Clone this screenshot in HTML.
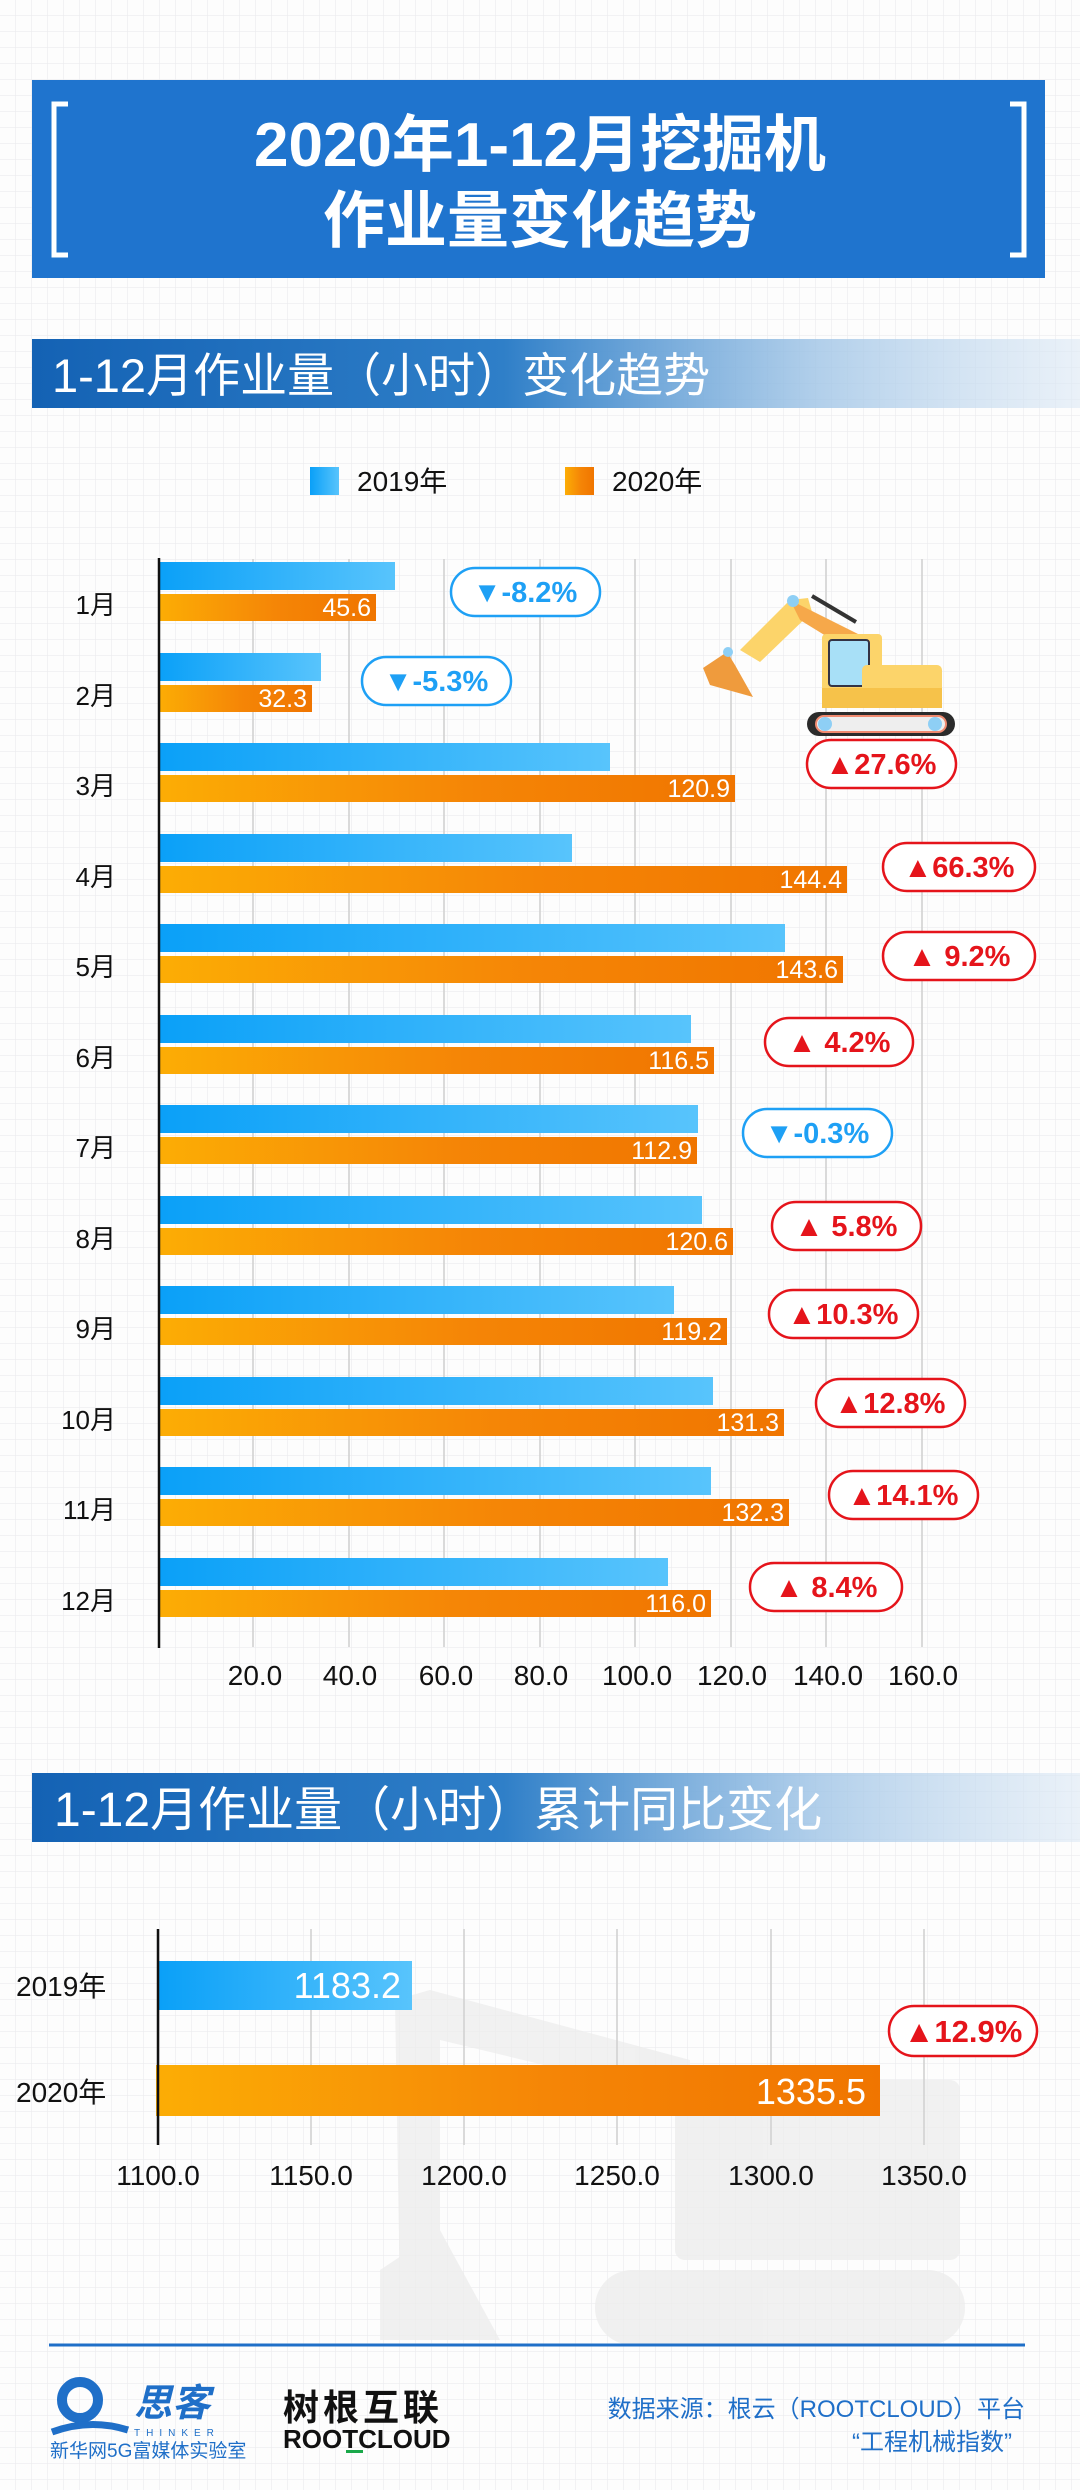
<!DOCTYPE html>
<html><head><meta charset="utf-8"><style>
html,body{margin:0;padding:0;background:#fff;}
svg{display:block;}
text{font-family:"Liberation Sans","Noto Sans CJK SC",sans-serif;}
</style></head><body>
<svg width="1080" height="2490" viewBox="0 0 1080 2490" xmlns="http://www.w3.org/2000/svg">
<defs>
<pattern id="grid" width="16" height="16" patternUnits="userSpaceOnUse">
<path d="M16 0V16H0" fill="none" stroke="#ececee" stroke-width="1.2"/>
</pattern>
<linearGradient id="blue" x1="0" x2="1"><stop offset="0" stop-color="#0aa0f8"/><stop offset="1" stop-color="#58c4fc"/></linearGradient>
<linearGradient id="orange" x1="0" x2="1"><stop offset="0" stop-color="#fcad05"/><stop offset="0.55" stop-color="#f58506"/><stop offset="1" stop-color="#f07500"/></linearGradient>
<linearGradient id="hdr" x1="0" x2="1"><stop offset="0" stop-color="#1462b4"/><stop offset="0.45" stop-color="#2f7fc8"/><stop offset="0.75" stop-color="#9fc4e6" stop-opacity="0.8"/><stop offset="1" stop-color="#dde9f5" stop-opacity="0.6"/></linearGradient>
</defs>
<rect width="1080" height="2490" fill="#fdfdfd"/>
<rect width="1080" height="2490" fill="url(#grid)"/>

<!-- Title -->
<rect x="32" y="80" width="1013" height="198" fill="#1f74ce"/>
<path d="M68 104H54V255H68" fill="none" stroke="#fff" stroke-width="5"/>
<path d="M1010 104H1024V255H1010" fill="none" stroke="#fff" stroke-width="5"/>
<text x="540" y="166" text-anchor="middle" font-size="62" font-weight="bold" fill="#fff">2020年1-12月挖掘机</text>
<text x="540" y="242" text-anchor="middle" font-size="62" font-weight="bold" fill="#fff">作业量变化趋势</text>

<!-- Section header 1 -->
<rect x="32" y="339" width="1048" height="69" fill="url(#hdr)"/>
<text x="52" y="392" font-size="47" fill="#fff">1-12月作业量（小时）变化趋势</text>

<!-- Legend -->
<rect x="310" y="467" width="29" height="28" fill="url(#blue)"/>
<text x="357" y="491" font-size="28" fill="#111">2019年</text>
<rect x="565" y="467" width="29" height="28" fill="url(#orange)"/>
<text x="612" y="491" font-size="28" fill="#111">2020年</text>

<!-- Chart 1 gridlines -->
<g stroke="#cfcfcf" stroke-width="1.5">
<line x1="253" y1="559" x2="253" y2="1647"/><line x1="349" y1="559" x2="349" y2="1647"/>
<line x1="444" y1="559" x2="444" y2="1647"/><line x1="540" y1="559" x2="540" y2="1647"/>
<line x1="635" y1="559" x2="635" y2="1647"/><line x1="731" y1="559" x2="731" y2="1647"/>
<line x1="826" y1="559" x2="826" y2="1647"/><line x1="922" y1="559" x2="922" y2="1647"/>
</g>

<!-- Excavator -->
<g>
<path d="M740 650 L790 600 L808 598 L812 612 L760 662 Z" fill="#fcd46a"/>
<path d="M790 600 L870 640 L865 660 L800 620 Z" fill="#f6a84a"/>
<line x1="812" y1="596" x2="856" y2="622" stroke="#333" stroke-width="4"/>
<path d="M703 668 L727 652 L735 665 L753 697 L710 685 Z" fill="#ef9b3d"/>
<circle cx="793" cy="601" r="6" fill="#8ecff5"/><circle cx="728" cy="652" r="5" fill="#8ecff5"/>
<rect x="822" y="634" width="60" height="74" rx="4" fill="#fcd46a"/>
<rect x="829" y="640" width="40" height="46" rx="3" fill="#a8e0f7" stroke="#334" stroke-width="2"/>
<rect x="862" y="665" width="80" height="43" rx="5" fill="#fcd46a"/>
<rect x="822" y="688" width="120" height="20" fill="#f6c24a"/>
<rect x="807" y="712" width="148" height="24" rx="12" fill="#2b2b2b"/>
<rect x="816" y="716" width="130" height="16" rx="8" fill="#eee" stroke="#f08a70" stroke-width="2"/>
<circle cx="825" cy="724" r="7" fill="#8ecff5"/><circle cx="935" cy="724" r="7" fill="#8ecff5"/>
</g>

<!-- Bars chart 1 -->
<g font-size="26" fill="#111" text-anchor="end">
<text x="116" y="614">1月</text><text x="116" y="705">2月</text><text x="116" y="795">3月</text>
<text x="116" y="886">4月</text><text x="116" y="976">5月</text><text x="116" y="1067">6月</text>
<text x="116" y="1157">7月</text><text x="116" y="1248">8月</text><text x="116" y="1338">9月</text>
<text x="116" y="1429">10月</text><text x="116" y="1519">11月</text><text x="116" y="1610">12月</text>
</g>
<g>
<rect x="158" y="562" width="237" height="28" fill="url(#blue)"/><rect x="158" y="594" width="218" height="27" fill="url(#orange)"/>
<rect x="158" y="653" width="163" height="28" fill="url(#blue)"/><rect x="158" y="685" width="154" height="27" fill="url(#orange)"/>
<rect x="158" y="743" width="452" height="28" fill="url(#blue)"/><rect x="158" y="775" width="577" height="27" fill="url(#orange)"/>
<rect x="158" y="834" width="414" height="28" fill="url(#blue)"/><rect x="158" y="866" width="689" height="27" fill="url(#orange)"/>
<rect x="158" y="924" width="627" height="28" fill="url(#blue)"/><rect x="158" y="956" width="685" height="27" fill="url(#orange)"/>
<rect x="158" y="1015" width="533" height="28" fill="url(#blue)"/><rect x="158" y="1047" width="556" height="27" fill="url(#orange)"/>
<rect x="158" y="1105" width="540" height="28" fill="url(#blue)"/><rect x="158" y="1137" width="539" height="27" fill="url(#orange)"/>
<rect x="158" y="1196" width="544" height="28" fill="url(#blue)"/><rect x="158" y="1228" width="575" height="27" fill="url(#orange)"/>
<rect x="158" y="1286" width="516" height="28" fill="url(#blue)"/><rect x="158" y="1318" width="569" height="27" fill="url(#orange)"/>
<rect x="158" y="1377" width="555" height="28" fill="url(#blue)"/><rect x="158" y="1409" width="626" height="27" fill="url(#orange)"/>
<rect x="158" y="1467" width="553" height="28" fill="url(#blue)"/><rect x="158" y="1499" width="631" height="27" fill="url(#orange)"/>
<rect x="158" y="1558" width="510" height="28" fill="url(#blue)"/><rect x="158" y="1590" width="553" height="27" fill="url(#orange)"/>
</g>
<g font-size="25" fill="#fff" text-anchor="end">
<text x="371" y="616">45.6</text><text x="307" y="707">32.3</text><text x="730" y="797">120.9</text>
<text x="842" y="888">144.4</text><text x="838" y="978">143.6</text><text x="709" y="1069">116.5</text>
<text x="692" y="1159">112.9</text><text x="728" y="1250">120.6</text><text x="722" y="1340">119.2</text>
<text x="779" y="1431">131.3</text><text x="784" y="1521">132.3</text><text x="706" y="1612">116.0</text>
</g>
<line x1="159" y1="558" x2="159" y2="1648" stroke="#111" stroke-width="2.5"/>
<g font-size="28" fill="#111" text-anchor="middle">
<text x="255" y="1685">20.0</text><text x="350" y="1685">40.0</text><text x="446" y="1685">60.0</text>
<text x="541" y="1685">80.0</text><text x="637" y="1685">100.0</text><text x="732" y="1685">120.0</text>
<text x="828" y="1685">140.0</text><text x="923" y="1685">160.0</text>
</g>

<!-- Badges -->
<g font-size="29" font-weight="bold" stroke-width="2.5">
<g stroke="#1ea0f5" fill="#fff"><rect x="451" y="568" width="149" height="48" rx="24"/><rect x="362" y="657" width="149" height="48" rx="24"/><rect x="743" y="1109" width="149" height="48" rx="24"/></g>
<g stroke="#e5141b" fill="#fff">
<rect x="807" y="740" width="149" height="48" rx="24"/><rect x="883" y="843" width="152" height="48" rx="24"/>
<rect x="883" y="932" width="152" height="48" rx="24"/><rect x="765" y="1018" width="148" height="48" rx="24"/>
<rect x="772" y="1202" width="149" height="48" rx="24"/><rect x="769" y="1290" width="149" height="48" rx="24"/>
<rect x="816" y="1379" width="149" height="48" rx="24"/><rect x="829" y="1471" width="149" height="48" rx="24"/>
<rect x="750" y="1563" width="152" height="48" rx="24"/></g>
</g>
<g font-size="29" font-weight="bold" text-anchor="middle" fill="#1ea0f5">
<text x="525" y="602">▼-8.2%</text><text x="436" y="691">▼-5.3%</text><text x="817" y="1143">▼-0.3%</text>
</g>
<g font-size="29" font-weight="bold" text-anchor="middle" fill="#e5141b">
<text x="881" y="774">▲27.6%</text><text x="959" y="877">▲66.3%</text><text x="959" y="966">▲ 9.2%</text>
<text x="839" y="1052">▲ 4.2%</text><text x="846" y="1236">▲ 5.8%</text><text x="843" y="1324">▲10.3%</text>
<text x="890" y="1413">▲12.8%</text><text x="903" y="1505">▲14.1%</text><text x="826" y="1597">▲ 8.4%</text>
</g>

<!-- Section header 2 -->
<rect x="32" y="1773" width="1048" height="69" fill="url(#hdr)"/>
<text x="54" y="1826" font-size="48" fill="#fff">1-12月作业量（小时）累计同比变化</text>

<!-- faded excavator -->
<g fill="#ececec" opacity="0.75">
<path d="M395 2000 L430 1990 L690 2060 L690 2100 L440 2040 L440 2280 L400 2300 Z"/>
<path d="M380 2270 L440 2230 L500 2340 L380 2340 Z"/>
<rect x="675" y="2080" width="285" height="180" rx="10"/>
<rect x="595" y="2270" width="370" height="75" rx="37"/>
</g>

<!-- Chart 2 -->
<g stroke="#cfcfcf" stroke-width="1.5">
<line x1="311" y1="1929" x2="311" y2="2145"/><line x1="464" y1="1929" x2="464" y2="2145"/>
<line x1="617" y1="1929" x2="617" y2="2145"/><line x1="771" y1="1929" x2="771" y2="2145"/>
<line x1="924" y1="1929" x2="924" y2="2145"/>
</g>
<rect x="158" y="1961" width="254" height="49" fill="url(#blue)"/>
<rect x="156" y="2065" width="724" height="51" fill="url(#orange)"/>
<line x1="158" y1="1929" x2="158" y2="2145" stroke="#111" stroke-width="2.5"/>
<text x="401" y="1998" font-size="36" fill="#fff" text-anchor="end">1183.2</text>
<text x="866" y="2104" font-size="36" fill="#fff" text-anchor="end">1335.5</text>
<text x="16" y="1996" font-size="28" fill="#111">2019年</text>
<text x="16" y="2102" font-size="28" fill="#111">2020年</text>
<g font-size="28" fill="#111" text-anchor="middle">
<text x="158" y="2185">1100.0</text><text x="311" y="2185">1150.0</text><text x="464" y="2185">1200.0</text>
<text x="617" y="2185">1250.0</text><text x="771" y="2185">1300.0</text><text x="924" y="2185">1350.0</text>
</g>
<rect x="889" y="2006" width="148" height="50" rx="25" fill="#fff" stroke="#e5141b" stroke-width="2.5"/>
<text x="963" y="2042" font-size="31" font-weight="bold" fill="#e5141b" text-anchor="middle">▲12.9%</text>

<!-- Footer -->
<line x1="49" y1="2345" x2="1025" y2="2345" stroke="#1f6fc8" stroke-width="3"/>
<circle cx="80" cy="2400" r="18" fill="none" stroke="#1f6fc8" stroke-width="10"/>
<path d="M52 2432 Q90 2418 128 2430" fill="none" stroke="#1f6fc8" stroke-width="7"/>
<text x="134" y="2416" font-size="38" font-weight="bold" fill="#1f6fc8" font-style="italic">思客</text>
<text x="134" y="2436" font-size="10" fill="#1f6fc8" letter-spacing="6">THINKER</text>
<text x="50" y="2457" font-size="19" fill="#1f6fc8">新华网5G富媒体实验室</text>
<text x="283" y="2420" font-size="36" font-weight="bold" fill="#111" letter-spacing="4">树根互联</text>
<text x="283" y="2448" font-size="26" font-weight="bold" fill="#111">ROOTCLOUD</text>
<rect x="346" y="2450" width="17" height="3" fill="#1aa84a"/>
<text x="1025" y="2417" font-size="24" fill="#1f6fc8" text-anchor="end">数据来源：根云（ROOTCLOUD）平台</text>
<text x="1012" y="2450" font-size="24" fill="#1f6fc8" text-anchor="end">“工程机械指数”</text>
</svg>
</body></html>
